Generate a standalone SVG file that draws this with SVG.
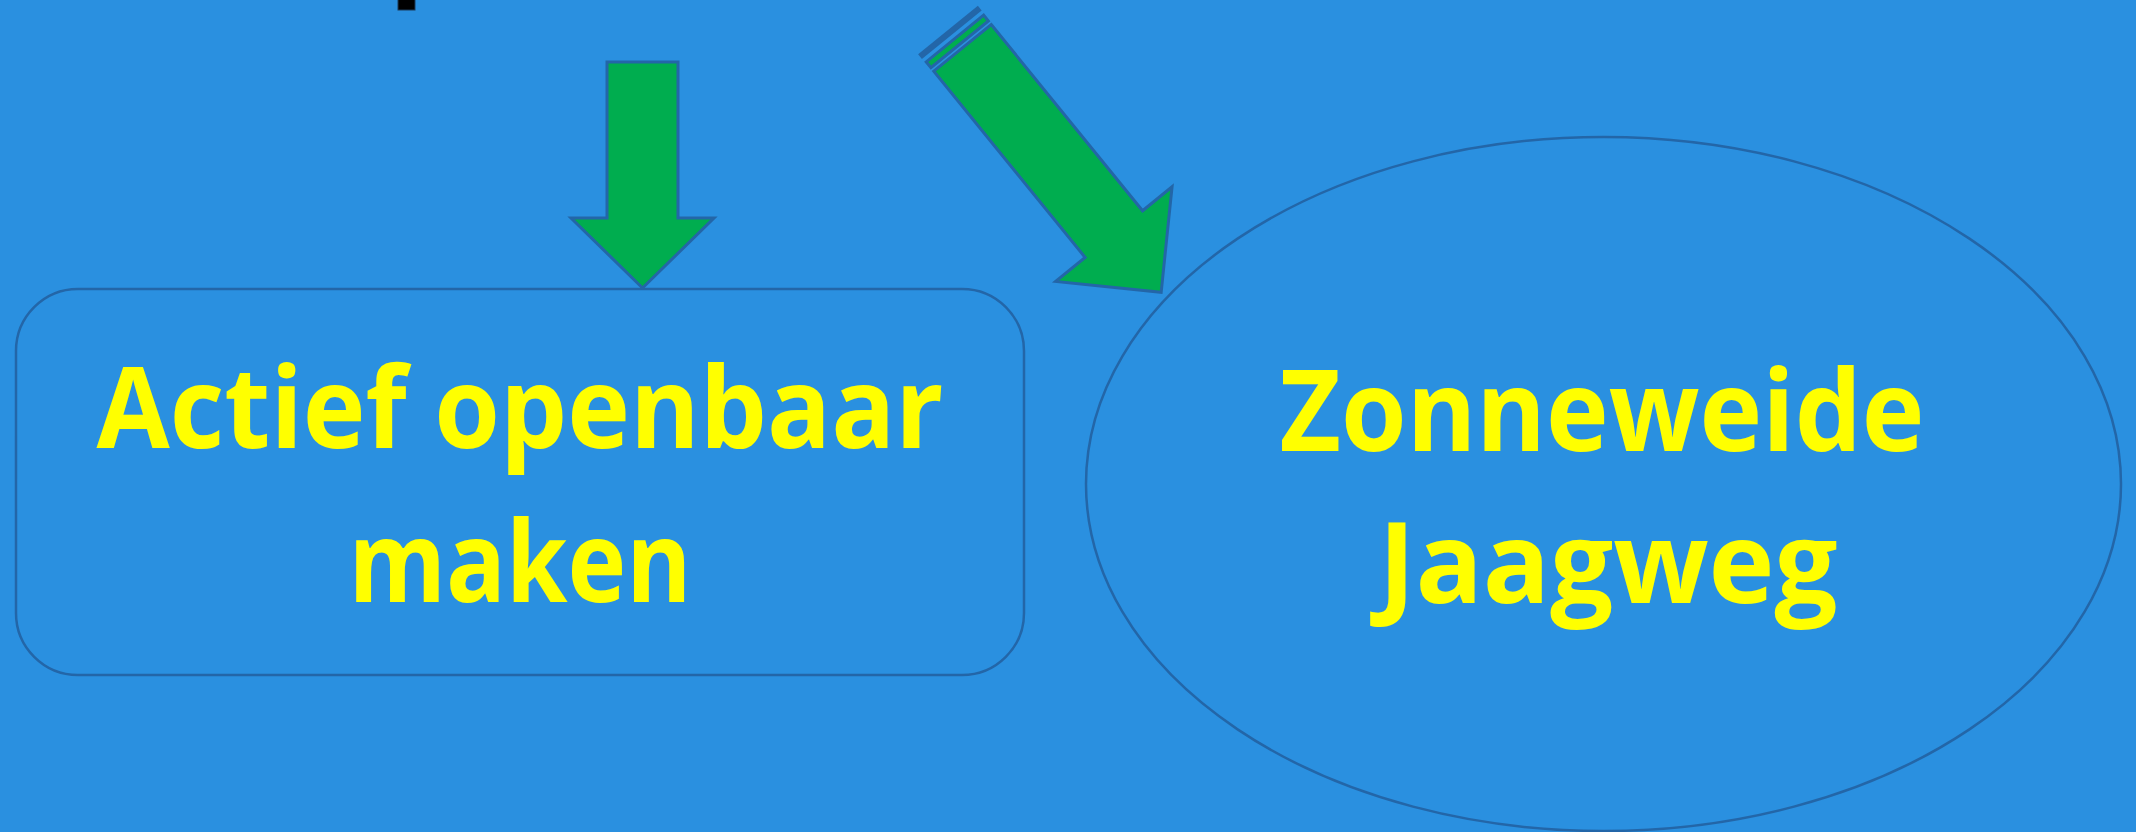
<svg xmlns="http://www.w3.org/2000/svg" width="2136" height="832" viewBox="0 0 2136 832">
  <style>
    .bg { fill: #2A90E0; }
    .node { fill: #2A90E0; stroke: #2366A8; stroke-width: 2.5; }
    .label { font-family: "Open Sans", Lato, "Liberation Sans", sans-serif; font-weight: 700; font-size: 113px; fill: #FFFF00; text-anchor: middle; font-variant-ligatures: none; }
    .arrow { fill: #00AD4F; stroke: #2366A8; stroke-width: 3; stroke-linejoin: miter; }
  </style>
  <rect class="bg" x="0" y="0" width="2136" height="832"/>
  <rect x="398" y="-2" width="17" height="12" fill="#000000" stroke="#1a3a5a" stroke-width="1"/>

  <g id="node-actief">
    <rect class="node" x="16" y="289" width="1008" height="386" rx="62" ry="62"/>
    <text class="label" x="520" y="448" textLength="847" lengthAdjust="spacingAndGlyphs">Actief openbaar</text>
    <text class="label" x="520" y="602" textLength="343" lengthAdjust="spacingAndGlyphs">maken</text>
  </g>

  <g id="node-zonneweide">
    <ellipse class="node" cx="1603.5" cy="484" rx="517.5" ry="347"/>
    <text class="label" x="1602" y="451" textLength="645" lengthAdjust="spacingAndGlyphs">Zonneweide</text>
    <text class="label" x="1608" y="603" textLength="459" lengthAdjust="spacingAndGlyphs">Jaagweg</text>
  </g>

  <g id="connectors">
    <polygon id="arrow-down" class="arrow" points="607,62 678,62 678,218 714,218 642.5,288 571,218 607,218"/>
    <g id="arrow-diagonal" transform="translate(962.5,47.85) rotate(50.9)">
      <rect class="arrow" x="-21.5" y="-37" width="3" height="74"/>
      <rect class="arrow" x="-12" y="-37" width="7.5" height="74"/>
      <polygon class="arrow" points="0,-37 240,-37 240,-75 315,0 240,75 240,37 0,37"/>
    </g>
  </g>
</svg>
